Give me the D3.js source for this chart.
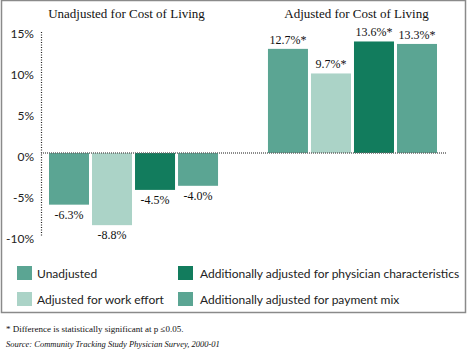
<!DOCTYPE html>
<html>
<head>
    <title>Physician income change by cost of living adjustment</title>
    <script src="https://d3js.org/d3.v7.min.js"></script>
    <style>
        body { margin: 0; background: #fff; }
        .serif { font-family: "Liberation Serif", "Times New Roman", serif; fill: #111; }
        .sans { font-family: Lato, "Liberation Sans", sans-serif; fill: #222; }
    </style>
</head>
<body>
<script>
    // chart data
    var panels = ["Unadjusted for Cost of Living", "Adjusted for Cost of Living"];
    var series = ["Unadjusted", "Adjusted for work effort",
        "Additionally adjusted for physician characteristics", "Additionally adjusted for payment mix"];
    var unadjustedValues = [-6.3, -8.8, -4.5, -4.0];
    var adjustedValues = [12.7, 9.7, 13.6, 13.3];
    var unadjustedSignificant = [false, false, false, false];
    var adjustedSignificant = [true, true, true, true];
    var yTicks = [15, 10, 5, 0, -5, -10];
    var colors = ["#5ba593", "#abd3c7", "#127c5d", "#5ba593"];
    var footnote = "* Difference is statistically significant at p \u22640.05.";
    var source = "Source: Community Tracking Study Physician Survey, 2000-01";

    var W = 467, H = 352;
    var svg = d3.select("body").append("svg").attr("width", W).attr("height", H);

    // frame around chart + legend
    svg.append("rect")
        .attr("x", 1.5).attr("y", 0.5).attr("width", 464).attr("height", 312)
        .attr("fill", "none").attr("stroke", "#8a8a8a").attr("stroke-width", 1.5);

    var y = d3.scaleLinear().domain([-10, 15]).range([235, 30]);
    var x0 = d3.scaleBand().domain(panels).range([49, 437]).paddingInner(0.228);
    var x1 = d3.scaleBand().domain(series).range([0, x0.bandwidth()]).paddingInner(0.07);

    var rows = [];
    series.forEach(function(s, i) {
        rows.push({panel: panels[0], series: s, value: unadjustedValues[i], sig: unadjustedSignificant[i], color: colors[i]});
        rows.push({panel: panels[1], series: s, value: adjustedValues[i], sig: adjustedSignificant[i], color: colors[i]});
    });

    // bars
    svg.selectAll(".bar")
        .data(rows)
        .enter().append("rect")
        .attr("class", "bar")
        .attr("x", function(d) { return x0(d.panel) + x1(d.series); })
        .attr("width", x1.bandwidth())
        .attr("y", function(d) { return Math.min(y(d.value), y(0)); })
        .attr("height", function(d) { return Math.abs(y(d.value) - y(0)); })
        .attr("fill", function(d) { return d.color; });

    // value labels
    svg.selectAll(".val")
        .data(rows)
        .enter().append("text")
        .attr("class", "val serif")
        .attr("x", function(d) { return x0(d.panel) + x1(d.series) + x1.bandwidth() / 2; })
        .attr("y", function(d) { return d.value >= 0 ? y(d.value) - 5 : y(d.value) + 14; })
        .attr("text-anchor", "middle")
        .style("font-size", "12px")
        .text(function(d) { return d.value.toFixed(1) + "%" + (d.sig ? "*" : ""); });

    // y axis: dotted line + labels
    svg.append("line")
        .attr("x1", 41.5).attr("x2", 41.5).attr("y1", 32).attr("y2", 237)
        .attr("stroke", "#222").attr("stroke-width", 1.2).attr("stroke-dasharray", "1,1.5");

    svg.selectAll(".ytick")
        .data(yTicks)
        .enter().append("text")
        .attr("class", "ytick sans")
        .attr("x", 34)
        .attr("y", function(d) { return y(d) + 8; })
        .attr("text-anchor", "end")
        .style("font-size", "12px")
        .text(function(d) { return d + "%"; });

    // zero line
    svg.append("line")
        .attr("x1", 41).attr("x2", 447).attr("y1", y(0)).attr("y2", y(0))
        .attr("stroke", "#666").attr("stroke-width", 1.6).attr("stroke-dasharray", "1,1");

    // panel titles
    svg.selectAll(".panel")
        .data(panels)
        .enter().append("text")
        .attr("class", "panel serif")
        .attr("x", function(d) { return x0(d) + x0.bandwidth() / 2 + (d === panels[0] ? -7 : 4); })
        .attr("y", 18)
        .attr("text-anchor", "middle")
        .style("font-size", "13px")
        .text(function(d) { return d; });

    // legend, two columns
    var legX = [17, 178], legY = [266, 292];
    var leg = svg.selectAll(".leg")
        .data(series)
        .enter().append("g")
        .attr("class", "leg")
        .attr("transform", function(d, i) {
            return "translate(" + legX[Math.floor(i / 2)] + "," + legY[i % 2] + ")";
        });
    leg.append("rect")
        .attr("width", 15).attr("height", 14)
        .attr("fill", function(d, i) { return colors[i]; });
    leg.append("text")
        .attr("class", "sans")
        .attr("x", function(d, i) { return i < 2 ? 20 : 22; })
        .attr("y", 12)
        .style("font-size", "12px")
        .text(function(d) { return d; });

    // notes
    svg.append("text")
        .attr("class", "serif")
        .attr("x", 6).attr("y", 332)
        .style("font-size", "9px")
        .text(footnote);
    svg.append("text")
        .attr("class", "serif")
        .attr("x", 6).attr("y", 347)
        .style("font-size", "8.5px")
        .style("font-style", "italic")
        .text(source);
</script>
</body>
</html>
